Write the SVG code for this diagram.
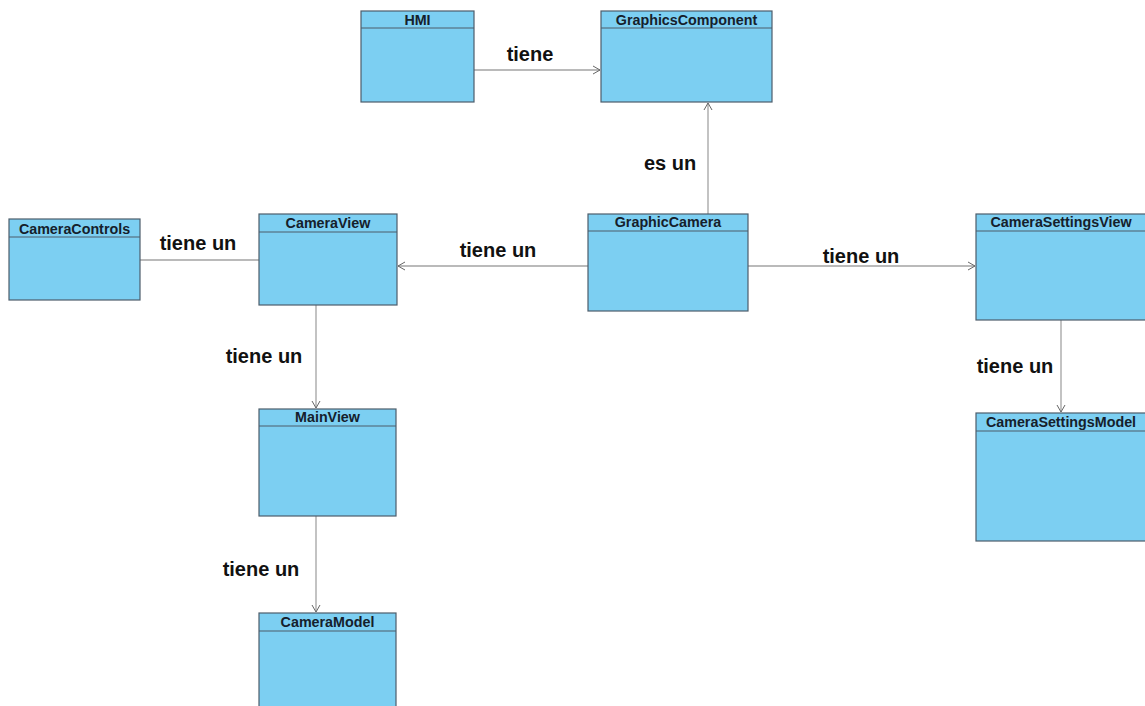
<svg xmlns="http://www.w3.org/2000/svg" width="1145" height="706" viewBox="0 0 1145 706">
<style>
.box{fill:#7ccff2;stroke:#4d5d6b;stroke-width:1.2}
.hd{stroke:#4d5d6b;stroke-width:1}
.t{font-family:"Liberation Sans",Arial,sans-serif;font-weight:bold;font-size:14.3px;fill:#15202b;text-anchor:middle}
.lb{font-family:"Liberation Sans",Arial,sans-serif;font-weight:bold;font-size:20px;fill:#111;text-anchor:middle}
.c{stroke:#a3a3a3;stroke-width:1.3;fill:none}
</style>
<defs>
<marker id="ar" markerWidth="10" markerHeight="10" refX="8" refY="5" orient="auto" markerUnits="userSpaceOnUse">
<path d="M1,1 L8,5 L1,9" fill="none" stroke="#666" stroke-width="1"/>
</marker>
</defs>
<rect width="1145" height="706" fill="#fff"/>
<g id="connectors">
<line class="c" x1="474" y1="70" x2="600" y2="70" marker-end="url(#ar)"/>
<line class="c" x1="708" y1="214" x2="708" y2="103" marker-end="url(#ar)"/>
<line class="c" x1="588" y1="266" x2="398" y2="266" marker-end="url(#ar)"/>
<line class="c" x1="140" y1="260" x2="259" y2="260"/>
<line class="c" x1="748" y1="266" x2="975" y2="266" marker-end="url(#ar)"/>
<line class="c" x1="316" y1="305" x2="316" y2="408" marker-end="url(#ar)"/>
<line class="c" x1="316" y1="516" x2="316" y2="612" marker-end="url(#ar)"/>
<line class="c" x1="1061" y1="320" x2="1061" y2="412" marker-end="url(#ar)"/>
<text class="lb" x="530" y="61">tiene</text>
<text class="lb" x="670" y="170">es un</text>
<text class="lb" x="498" y="257">tiene un</text>
<text class="lb" x="198" y="250">tiene un</text>
<text class="lb" x="861" y="263">tiene un</text>
<text class="lb" x="264" y="363">tiene un</text>
<text class="lb" x="261" y="576">tiene un</text>
<text class="lb" x="1015" y="373">tiene un</text>
</g>
<g id="HMI"><rect class="box" x="361" y="11" width="113" height="91"/><line class="hd" x1="361" y1="28" x2="474" y2="28"/><text class="t" x="417.5" y="25">HMI</text></g>
<g id="GraphicsComponent"><rect class="box" x="601" y="11" width="171" height="91"/><line class="hd" x1="601" y1="28" x2="772" y2="28"/><text class="t" x="686.5" y="25">GraphicsComponent</text></g>
<g id="CameraControls"><rect class="box" x="9" y="219" width="131" height="81"/><line class="hd" x1="9" y1="237" x2="140" y2="237"/><text class="t" x="74.5" y="234">CameraControls</text></g>
<g id="CameraView"><rect class="box" x="259" y="214" width="138" height="91"/><line class="hd" x1="259" y1="232" x2="397" y2="232"/><text class="t" x="328" y="228">CameraView</text></g>
<g id="GraphicCamera"><rect class="box" x="588" y="214" width="160" height="97"/><line class="hd" x1="588" y1="231" x2="748" y2="231"/><text class="t" x="668" y="227">GraphicCamera</text></g>
<g id="CameraSettingsView"><rect class="box" x="976" y="214" width="172" height="106"/><line class="hd" x1="976" y1="231" x2="1148" y2="231"/><text class="t" x="1061" y="227">CameraSettingsView</text></g>
<g id="MainView"><rect class="box" x="259" y="409" width="137" height="107"/><line class="hd" x1="259" y1="426" x2="396" y2="426"/><text class="t" x="327.5" y="422">MainView</text></g>
<g id="CameraModel"><rect class="box" x="259" y="613" width="137" height="98"/><line class="hd" x1="259" y1="631" x2="396" y2="631"/><text class="t" x="327.5" y="627">CameraModel</text></g>
<g id="CameraSettingsModel"><rect class="box" x="976" y="413" width="172" height="128"/><line class="hd" x1="976" y1="431" x2="1148" y2="431"/><text class="t" x="1061" y="427">CameraSettingsModel</text></g>
</svg>
